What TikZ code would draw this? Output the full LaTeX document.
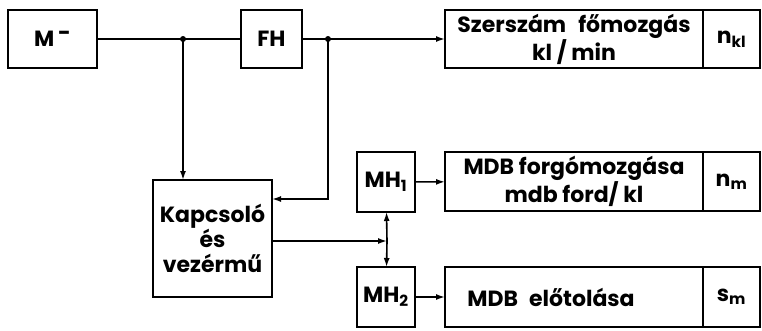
\documentclass[tikz,border=0pt]{standalone}
\usepackage{fontspec}
\setmainfont{Poppins}
\usepackage{tikz}
\usetikzlibrary{arrows.meta, positioning}

\begin{document}
\begin{tikzpicture}[x=1pt, y=1pt,
    blk/.style={
      rectangle, draw=black, line width=2.8pt, outer sep=0pt,
      minimum height=58pt, inner sep=1pt,
      font=\bfseries\fontsize{22}{23}\selectfont, align=center
    },
    arr/.style={-{Latex[length=9pt,width=6pt]}, line width=1.6pt},
    ln/.style={line width=1.6pt},
    jdot/.style={circle, fill=black, inner sep=0pt, minimum size=6pt},
  ]
  \useasboundingbox (0,0) rectangle (762,-330);

  % felso sor
  \node[blk, minimum width=89pt] (m) at (52.5,-39) {M\,\raisebox{6pt}{-}};
  \node[blk, minimum width=61pt] (fh) at (271.5,-39) {FH};
  \node[blk, minimum width=258pt] (sz) at (574,-39) {Szerszám\hspace{12pt}főmozgás\\kl / min};
  \node[blk, minimum width=57pt, right=0pt of sz] (nkl) {n\textsubscript{kl}};

  % kapcsolo
  \node[blk, minimum width=119pt, minimum height=117pt,
        font=\bfseries\fontsize{22}{25}\selectfont] (kv) at (212.5,-238.5) {Kapcsoló\\és\\vezérmű};

  % mellekhajtasok
  \node[blk, minimum width=58pt, minimum height=60pt] (mh1) at (386,-182) {MH\textsubscript{1}};
  \node[blk, minimum width=58pt, minimum height=60pt] (mh2) at (386,-297) {MH\textsubscript{2}};
  \node[blk, minimum width=258pt, minimum height=59pt] (fm) at (574,-181.5) {MDB forgómozgása\\mdb ford/ kl};
  \node[blk, minimum width=57pt, minimum height=59pt, right=0pt of fm] (nm) {n\textsubscript{m}};
  \node[blk, minimum width=258pt, minimum height=60pt] (el) at (574,-297) {MDB\enspace előtolása\hspace*{46pt}};
  \node[blk, minimum width=57pt, minimum height=60pt, right=0pt of el] (sm) {s\textsubscript{m}};

  \coordinate (j1) at (183,-39);
  \coordinate (j2) at (328,-39);
  \coordinate (kin) at (328,-199);
  \coordinate (j3) at (387,-241);
  \node[jdot] at (j1) {};
  \node[jdot] at (j2) {};

  \draw[ln] (m) -- (fh);
  \draw[arr] (fh) -- (sz);
  \draw[arr] (j1) -- (j1 |- kv.north);
  \draw[arr] (j2) -- (kin) -- (kin -| kv.east);
  \draw[arr] (kv.east |- j3) -- (j3);
  \draw[arr] (j3) -- (mh1);
  \draw[arr] (j3) -- (mh2);
  \draw[arr] (mh1) -- (fm);
  \draw[arr] (mh2) -- (el);
\end{tikzpicture}
\end{document}
